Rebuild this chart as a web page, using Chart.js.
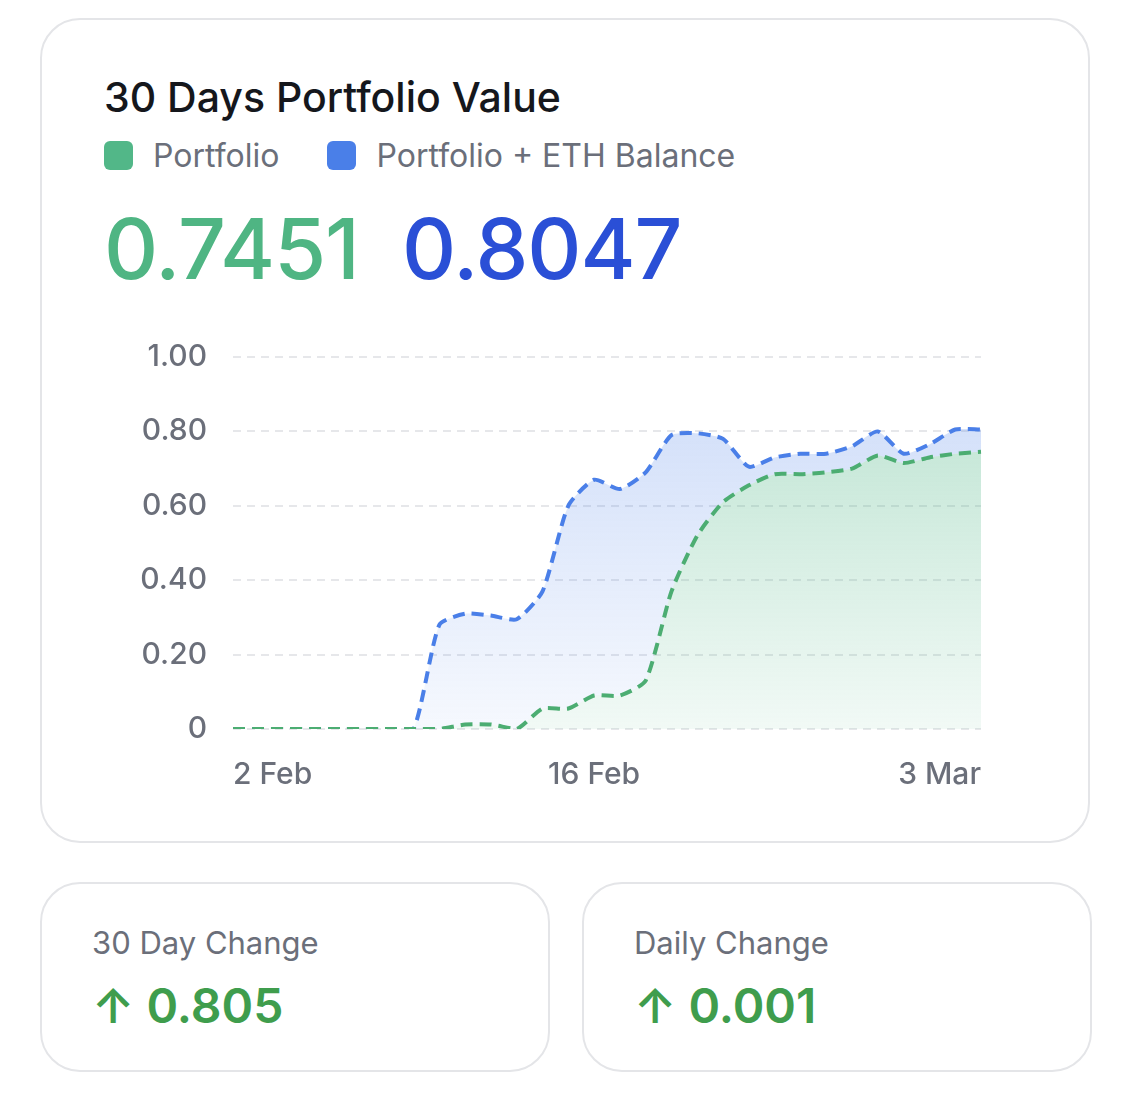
<!DOCTYPE html>
<html>
<head>
<meta charset="utf-8">
<script src="https://cdn.jsdelivr.net/npm/chart.js@4"></script>
<style>
  body { margin: 0; width: 1125px; height: 1116px; background: #fff; font-family: Inter, "Noto Sans", sans-serif; position: relative; overflow: hidden; }
  .card { position: absolute; border: 2px solid #e4e5e8; border-radius: 40px; box-sizing: border-box; background: #fff; }
  #main { left: 40px; top: 18px; width: 1050px; height: 825px; }
  .title { position: absolute; left: 62px; top: 52px; font-size: 41px; color: #15171c; font-weight: 500; }
  .legend { position: absolute; left: 62px; top: 116px; font-size: 32px; color: #6b6f7a; display: flex; align-items: center; }
  .sw { width: 29px; height: 29px; border-radius: 6px; display: inline-block; margin-right: 20px; }
  .big { position: absolute; top: 178px; font-size: 84px; font-weight: 500; letter-spacing: -1px; }
  #wrap { position: absolute; left: 120px; top: 313px; width: 900px; height: 486px; }
  .small { top: 882px; width: 510px; height: 190px; }
  .lab { position: absolute; left: 50px; top: 40px; font-size: 31px; color: #6b6f7a; }
  .val { position: absolute; left: 50px; top: 92px; font-size: 48px; color: #3f9d4d; font-weight: 600; }
</style>
</head>
<body>
<div class="card" id="main">
  <div class="title">30 Days Portfolio Value</div>
  <div class="legend">
    <span class="sw" style="background:#52b788"></span><span style="margin-right:48px">Portfolio</span>
    <span class="sw" style="background:#4a7fe8"></span><span>Portfolio + ETH Balance</span>
  </div>
  <div class="big" style="left:62px;color:#4fb583">0.7451</div>
  <div class="big" style="left:360px;color:#2a4fd6">0.8047</div>
</div>
<div id="wrap"><canvas id="chart"></canvas></div>
<div class="card small" style="left:40px">
  <div class="lab">30 Day Change</div>
  <div class="val">↑ 0.805</div>
</div>
<div class="card small" style="left:582px">
  <div class="lab">Daily Change</div>
  <div class="val">↑ 0.001</div>
</div>
<script>
const dates = ['2 Feb','3 Feb','4 Feb','5 Feb','6 Feb','7 Feb','8 Feb','9 Feb','10 Feb','11 Feb','12 Feb','13 Feb','14 Feb','15 Feb','16 Feb',
  '17 Feb','18 Feb','19 Feb','20 Feb','21 Feb','22 Feb','23 Feb','24 Feb','25 Feb','26 Feb','27 Feb','28 Feb','1 Mar','2 Mar','3 Mar'];
const shownLabels = ['2 Feb', '16 Feb', '3 Mar'];
const portfolio = [0,0,0,0,0,0,0,0,0,0.012,0.012,0,0.055,0.055,0.09,0.09,0.13,0.37,0.52,0.61,0.655,0.685,0.685,0.69,0.70,0.735,0.715,0.73,0.74,0.745];
const withEth = [0,0,0,0,0,0,0,0,0.28,0.31,0.305,0.295,0.37,0.60,0.67,0.645,0.69,0.79,0.795,0.78,0.705,0.73,0.74,0.74,0.76,0.80,0.74,0.765,0.805,0.805];
const yTicks = [0, 0.2, 0.4, 0.6, 0.8, 1.0];

function grad(ctx, area, c1, c2) {
  const g = ctx.createLinearGradient(0, area.top, 0, area.bottom);
  g.addColorStop(0, c1);
  g.addColorStop(1, c2);
  return g;
}

new Chart(document.getElementById('chart'), {
  type: 'line',
  data: {
    labels: dates,
    datasets: [
      {
        data: portfolio, borderColor: '#4cad72', borderWidth: 4, borderDash: [12, 7],
        pointRadius: 0, tension: 0.2, fill: 'origin',
        backgroundColor: c => c.chart.chartArea ? grad(c.chart.ctx, c.chart.chartArea, 'rgba(82,183,136,0.40)', 'rgba(82,183,136,0.08)') : 'rgba(82,183,136,0.2)'
      },
      {
        data: withEth, borderColor: '#4a7fe8', borderWidth: 4, borderDash: [12, 7],
        pointRadius: 0, tension: 0.2, fill: 0,
        backgroundColor: c => c.chart.chartArea ? grad(c.chart.ctx, c.chart.chartArea, 'rgba(74,127,232,0.28)', 'rgba(74,127,232,0.05)') : 'rgba(74,127,232,0.15)'
      }
    ]
  },
  options: {
    responsive: true, maintainAspectRatio: false, animation: false,
    layout: { padding: { top: 15, right: 39 } },
    plugins: { legend: { display: false }, tooltip: { enabled: false } },
    scales: {
      x: {
        grid: { display: false }, border: { display: false },
        afterFit: s => { s.height = 70; },
        ticks: {
          autoSkip: false, maxRotation: 0, align: 'inner', padding: 20,
          color: '#6b6f7a', font: { size: 30, family: 'Inter', weight: '500' },
          callback: function (v) { const l = this.getLabelForValue(v); return shownLabels.includes(l) ? l : ''; }
        }
      },
      y: {
        min: 0, max: 1,
        afterFit: s => { s.width = 113; },
        afterBuildTicks: s => { s.ticks = yTicks.map(v => ({ value: v })); },
        grid: { color: '#e6e7ea', lineWidth: 2, tickLength: 0 },
        border: { display: false, dash: [8, 6] },
        ticks: {
          padding: 26, color: '#6b6f7a', font: { size: 30, family: 'Inter', weight: '500' },
          callback: v => v === 0 ? '0' : v.toFixed(2)
        }
      }
    }
  }
});
</script>
</body>
</html>
